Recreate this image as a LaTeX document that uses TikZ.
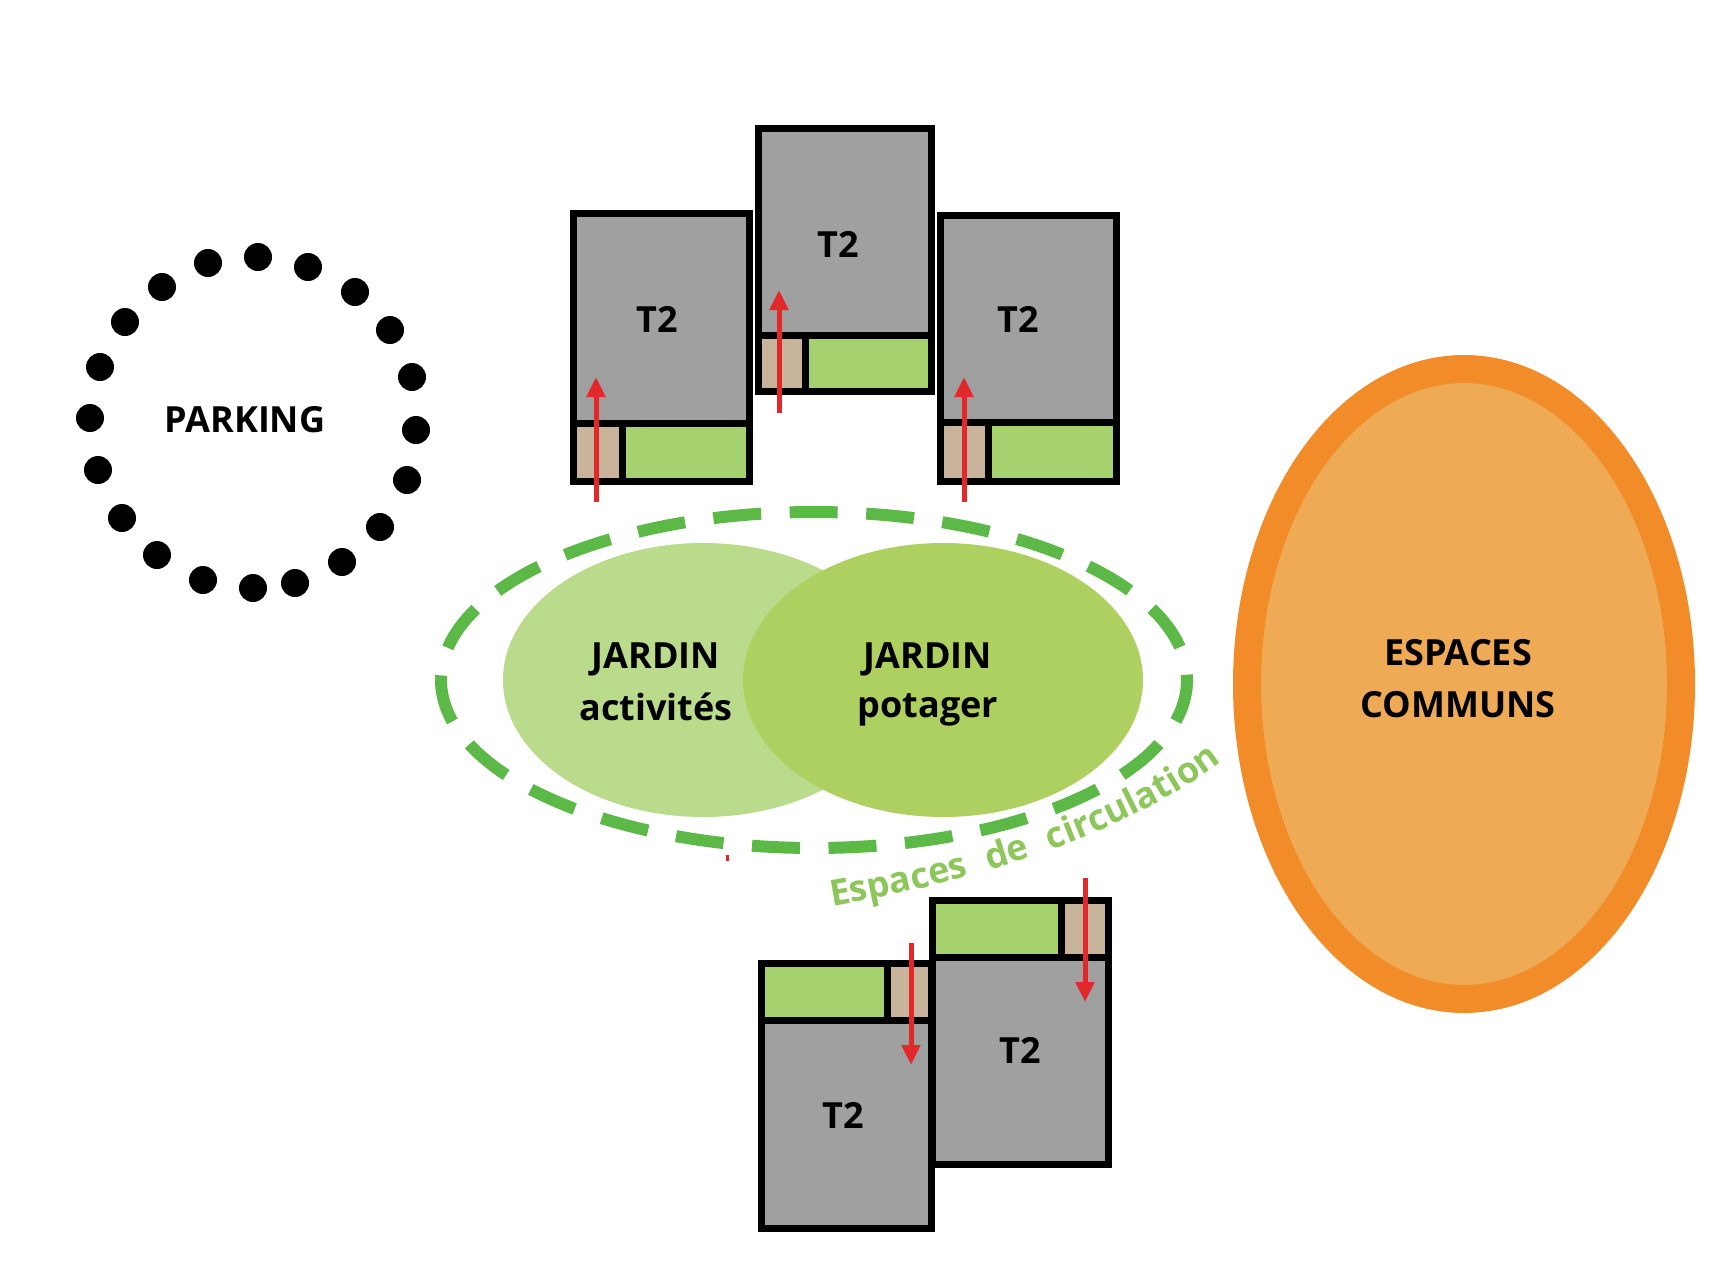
\documentclass[tikz,border=0pt]{standalone}
\usepackage{fontspec}
\setmainfont{Open Sans}
\usetikzlibrary{arrows.meta,decorations.text}
\definecolor{housegray}{HTML}{A0A0A0}
\definecolor{tanc}{HTML}{C8B49B}
\definecolor{gardgreen}{HTML}{A5D26E}
\definecolor{arrowred}{HTML}{E2282A}
\definecolor{dashgreen}{HTML}{5CB847}
\definecolor{actgreen}{HTML}{BADA8C}
\definecolor{potgreen}{HTML}{AED060}
\definecolor{orangeb}{HTML}{F28C28}
\definecolor{orangef}{HTML}{EEAA55}
\definecolor{circgreen}{HTML}{8DC65A}
\newcommand\labfont{\fontsize{36}{44}\selectfont\bfseries}
\newcommand\circfont{\fontsize{36}{40}\selectfont\bfseries\color{circgreen}}
% garden at bottom, tan on the left
\newcommand\housebot[6]{%
  \fill[housegray] (#1,#2) rectangle (#3,#5);
  \fill[tanc] (#1,#5) rectangle (#6,#4);
  \fill[gardgreen] (#6,#5) rectangle (#3,#4);
  \draw[wall] (#1,#2) rectangle (#3,#4) (#1,#5) -- (#3,#5) (#6,#5) -- (#6,#4);
}
% garden on top, green on the left, tan on the right
\newcommand\housetopg[6]{%
  \fill[housegray] (#1,#5) rectangle (#3,#4);
  \fill[gardgreen] (#1,#2) rectangle (#6,#5);
  \fill[tanc] (#6,#2) rectangle (#3,#5);
  \draw[wall] (#1,#2) rectangle (#3,#4) (#1,#5) -- (#3,#5) (#6,#2) -- (#6,#5);
}
\begin{document}
\begin{tikzpicture}[x=1pt,y=-1pt,
  lbl/.style={font=\labfont, inner sep=0pt, anchor=base},
  wall/.style={line width=7pt, draw=black, line join=miter},
  entry/.style={draw=arrowred, line width=5pt, -{Triangle[length=20pt,width=18pt]}},
  pdot/.style={circle, fill=black, minimum size=28pt, inner sep=0pt}]
\fill[white] (0,0) rectangle (1716,1263);
\useasboundingbox (0,0) rectangle (1716,1263);

% parking dots
\foreach \px/\py [count=\i] in {258/257, 308/267, 355/292, 390/330, 412/377, 416/430, 407/480, 380/527, 342/562, 295/583, 253/588, 203/580, 157/555, 122/518, 98/470, 90/418, 100/367, 125/322, 162/287, 208/263}
  \node[pdot] (d\i) at (\px,\py) {};
\node[lbl] (parking) at (245,432) {PARKING};

% circulation ring
\draw[dashgreen, line width=12pt, dash pattern=on 48pt off 28.57pt, dash phase=5pt] (814,680) ellipse (373 and 168);

% gardens
\fill[actgreen] (703,680) ellipse (200 and 137);
\fill[potgreen] (943,680) ellipse (200 and 137);
\node[lbl] (ja1) at (656,668) {JARDIN};
\node[lbl] (ja2) at (656,720) {activités};
\node[lbl] (jp1) at (928,668) {JARDIN};
\node[lbl] (jp2) at (928,717) {potager};

% common spaces
\draw[orangeb, fill=orangef, line width=28pt] (1464,684) ellipse (217 and 315);
\node[lbl] (ec1) at (1458,665) {ESPACES};
\node[lbl] (ec2) at (1458,717) {COMMUNS};

% circulation label
\path[decorate, decoration={text along path, text={|\circfont|Espaces de circulation}, text align={fit to path stretching spaces}}]
  (832,906) .. controls (965,884) and (1120,838) .. (1222,762);

% top houses
\housebot{573.5}{213.5}{749.5}{481.5}{423}{622}
\housebot{758.5}{128.5}{931.5}{391.5}{335}{805}
\housebot{940.5}{215.5}{1116.5}{481.5}{422}{988}
\node[lbl] (t1) at (657,332) {T2};
\node[lbl] (t2) at (838,257) {T2};
\node[lbl] (t3) at (1018,332) {T2};

% bottom houses
\housetopg{761.5}{963.5}{931.5}{1228.5}{1020}{887}
\housetopg{932.5}{900.5}{1108.5}{1164.5}{957}{1061}
\node[lbl] (t4) at (843,1128) {T2};
\node[lbl] (t5) at (1020,1063) {T2};

% entry arrows
\coordinate (a1s) at (596,502); \coordinate (a1e) at (596,377);
\coordinate (a2s) at (779,413); \coordinate (a2e) at (779,290);
\coordinate (a3s) at (964,502); \coordinate (a3e) at (964,377);
\coordinate (a4s) at (911,943); \coordinate (a4e) at (911,1065);
\coordinate (a5s) at (1085,878); \coordinate (a5e) at (1085,1002);
\draw[entry] (a1s) -- (a1e);
\draw[entry] (a2s) -- (a2e);
\draw[entry] (a3s) -- (a3e);
\draw[entry] (a4s) -- (a4e);
\draw[entry] (a5s) -- (a5e);
\coordinate (rt1) at (727,855); \coordinate (rt2) at (727,861);
\draw[arrowred, line width=3pt] (rt1) -- (rt2);
\end{tikzpicture}
\end{document}
